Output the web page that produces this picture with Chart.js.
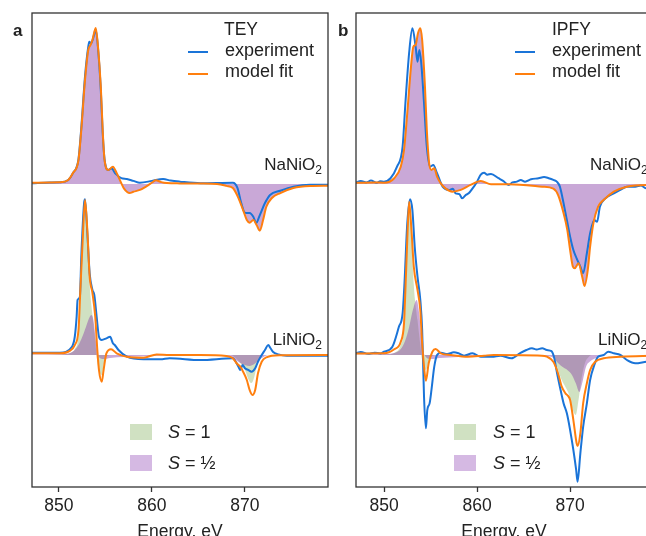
<!DOCTYPE html>
<html>
<head>
<meta charset="utf-8">
<script src="https://cdn.jsdelivr.net/npm/chart.js@4.4.0/dist/chart.umd.min.js"></script>
<style>
  html, body { margin: 0; padding: 0; background: #fff; overflow: hidden; }
  #fig { position: relative; width: 646px; height: 536px; overflow: hidden;
         font-family: 'Liberation Sans', Arial, sans-serif; color: #222; }
  canvas { position: absolute; top: 0; }
  #ca { left: 0; }
  #cb { left: 330px; }
  .t { position: absolute; font-size: 17px; line-height: 17px; white-space: nowrap; }
  .lg { font-size: 18px; }
  .b { font-weight: bold; }
  .ln { position: absolute; width: 20px; height: 2px; }
  .patch { position: absolute; width: 22px; height: 16px; }
  sub { font-size: 12px; vertical-align: -4px; line-height: 0; }
</style>
</head>
<body>
<div id="fig">
  <canvas id="ca" width="340" height="548"></canvas>
  <canvas id="cb" width="340" height="548"></canvas>

  <div class="t b" style="left:13px;top:22px">a</div>
  <div class="t" style="left:224px;top:21px;font-size:17.5px">TEY</div>
  <div class="ln" style="left:188px;top:51px;background:#1a74d8"></div>
  <div class="t lg" style="left:225px;top:42px">experiment</div>
  <div class="ln" style="left:188px;top:73px;background:#ff7f0e"></div>
  <div class="t lg" style="left:225px;top:63px">model fit</div>
  <div class="t" style="right:324px;top:156px">NaNiO<sub>2</sub></div>
  <div class="t" style="right:324px;top:331px">LiNiO<sub>2</sub></div>
  <div class="patch" style="left:130px;top:424px;background:rgba(120,170,80,0.35)"></div>
  <div class="t lg" style="left:168px;top:424px"><i>S</i> = 1</div>
  <div class="patch" style="left:130px;top:455px;background:rgba(150,80,185,0.4)"></div>
  <div class="t lg" style="left:168px;top:455px"><i>S</i> = ½</div>

  <div class="t b" style="left:338px;top:22px">b</div>
  <div class="t" style="left:552px;top:21px;font-size:17.5px">IPFY</div>
  <div class="ln" style="left:515px;top:51px;background:#1a74d8"></div>
  <div class="t lg" style="left:552px;top:42px">experiment</div>
  <div class="ln" style="left:515px;top:73px;background:#ff7f0e"></div>
  <div class="t lg" style="left:552px;top:63px">model fit</div>
  <div class="t" style="left:590px;top:156px">NaNiO<sub>2</sub></div>
  <div class="t" style="left:598px;top:331px">LiNiO<sub>2</sub></div>
  <div class="patch" style="left:454px;top:424px;background:rgba(120,170,80,0.35)"></div>
  <div class="t lg" style="left:493px;top:424px"><i>S</i> = 1</div>
  <div class="patch" style="left:454px;top:455px;background:rgba(150,80,185,0.4)"></div>
  <div class="t lg" style="left:493px;top:455px"><i>S</i> = ½</div>
</div>

<script>
// energy (eV), signal relative to each trace's own baseline (peak ~ 1)
const xTicks = [850, 860, 870];
const naOffset = 1.096;   // NaNiO2 traces sit above LiNiO2

// --- a: TEY ---
const teyNaExp = [[847.1,0.005],[849,0.01],[850.1,0.011],[851,0.026],[851.5,0.07],[852.1,0.16],[852.4,0.36],[852.8,0.69],[853.15,0.88],[853.26,0.912],[853.45,0.9],[853.7,0.94],[853.95,0.99],[854.2,0.87],[854.5,0.6],[854.7,0.33],[854.9,0.16],[855.3,0.09],[855.65,0.1],[856.1,0.065],[856.7,0.038],[857.3,0.032],[858,0.02],[858.7,0.008],[860,0.02],[861.2,0.032],[862,0.022],[863,0.015],[865.2,0.005],[868.7,0.008],[869.2,-0.026],[869.6,-0.122],[870,-0.184],[870.5,-0.186],[870.9,-0.21],[871.2,-0.25],[871.6,-0.199],[872.15,-0.122],[872.7,-0.07],[873.8,-0.043],[875.2,-0.017],[877,-0.004],[879,-0.004]];
const teyNaFit = [[847.1,0.008],[849,0.01],[850.1,0.011],[851,0.026],[851.5,0.07],[852.1,0.154],[852.4,0.346],[852.8,0.667],[853.15,0.859],[853.4,0.891],[853.6,0.923],[853.95,1.0],[854.2,0.878],[854.5,0.622],[854.7,0.346],[854.9,0.154],[855.3,0.09],[855.8,0.111],[856.2,0.07],[856.7,0.006],[857,-0.03],[857.6,-0.058],[858,-0.05],[858.7,-0.038],[859.4,-0.015],[860.1,0.013],[860.4,0.024],[861,0.012],[861.6,0.006],[863,0.004],[865.2,0.003],[867,0],[868,-0.012],[868.7,-0.026],[869.3,-0.09],[869.8,-0.167],[870.2,-0.231],[870.5,-0.248],[870.9,-0.231],[871.25,-0.263],[871.6,-0.299],[871.95,-0.231],[872.3,-0.146],[872.9,-0.09],[873.8,-0.058],[875.2,-0.026],[877,-0.013],[879,-0.011]];
const teyLiExp = [[847.1,0.015],[850.1,0.015],[851.4,0.053],[851.7,0.117],[851.9,0.246],[852,0.353],[852.25,0.374],[852.4,0.63],[852.7,0.972],[852.8,0.998],[853.05,0.78],[853.3,0.524],[853.6,0.417],[853.8,0.385],[854.05,0.246],[854.3,0.117],[854.6,0.096],[855.1,0.107],[855.5,0.117],[855.8,0.075],[856,0.064],[856.4,0.032],[857.3,-0.011],[859.1,-0.028],[860.9,-0.028],[861.9,-0.021],[865.2,-0.032],[868.7,-0.021],[868.9,-0.032],[869.3,-0.075],[869.5,-0.096],[869.75,-0.064],[870,-0.085],[870.35,-0.096],[870.7,-0.107],[871.1,-0.085],[871.4,-0.043],[871.8,0],[872.15,0.032],[872.5,0.064],[872.75,0.043],[873,0.021],[873.6,0.004],[874.5,-0.004],[879,-0.004]];
const teyLiFit = [[847.1,0.012],[850.1,0.011],[851.2,0.028],[851.7,0.064],[852.1,0.16],[852.3,0.417],[852.55,0.737],[852.8,0.994],[853.05,0.801],[853.3,0.502],[853.6,0.397],[853.9,0.246],[854.1,0.053],[854.3,-0.096],[854.6,-0.171],[854.8,-0.096],[855.1,0.011],[855.6,0.037],[856.2,0.011],[857.3,-0.011],[859.1,-0.017],[860.5,0.004],[861.9,0],[865.2,0],[868,-0.006],[868.7,-0.021],[869.1,-0.053],[869.5,-0.075],[869.8,-0.107],[870.2,-0.16],[870.5,-0.224],[870.8,-0.256],[871.1,-0.224],[871.4,-0.117],[871.8,-0.043],[872.3,-0.015],[873.8,-0.002],[879,0]];
const teyLiS1 = [[847.1,0],[850.5,0.004],[851.2,0.013],[851.7,0.038],[852.1,0.128],[852.3,0.353],[852.55,0.705],[852.8,0.96],[853.05,0.77],[853.3,0.449],[853.6,0.256],[853.9,0.096],[854.1,-0.032],[854.3,-0.096],[854.6,-0.128],[854.8,-0.064],[855.1,-0.013],[855.6,0],[868.5,0],[869,-0.019],[869.5,-0.051],[870,-0.096],[870.4,-0.16],[870.7,-0.18],[871,-0.141],[871.3,-0.064],[871.7,-0.019],[872,0],[879,0]];
const teyLiS12 = [[847.1,0.003],[850,0.005],[851.2,0.013],[851.7,0.032],[852.1,0.064],[852.5,0.115],[852.9,0.18],[853.3,0.244],[853.5,0.256],[853.7,0.224],[853.9,0.128],[854.1,0.032],[854.3,-0.013],[854.8,-0.026],[855.5,-0.019],[857,-0.013],[860,-0.006],[863,0],[868,-0.006],[868.5,-0.019],[869,-0.032],[869.5,-0.051],[870,-0.064],[870.5,-0.07],[871,-0.058],[871.5,-0.032],[872,-0.013],[872.5,0],[879,0]];

// --- b: IPFY ---
const ipfyNaExp = [[847,0.008],[847.5,0.02],[848.1,0.01],[848.6,0.022],[849.2,0.008],[849.6,0.018],[850,0.015],[850.7,0.037],[851.4,0.111],[852,0.239],[852.3,0.519],[852.7,0.84],[853.05,0.998],[853.4,0.88],[853.6,0.784],[853.8,0.859],[854,0.776],[854.3,0.519],[854.6,0.239],[854.95,0.111],[855.3,0.122],[855.7,0.069],[856.3,-0.017],[857,-0.038],[857.4,-0.03],[857.7,-0.06],[858.1,-0.065],[858.4,-0.092],[858.8,-0.07],[859.1,-0.06],[859.5,-0.03],[860,0.015],[860.4,0.06],[860.75,0.072],[861.1,0.06],[861.5,0.064],[862.3,0.037],[862.8,0.02],[863.4,-0.006],[863.8,0.01],[864.27,0.015],[864.7,0.025],[865.16,0.015],[865.8,0.03],[866.6,0.037],[867.2,0.045],[867.7,0.037],[868.2,0.026],[868.57,0.015],[868.9,-0.017],[869.3,-0.124],[869.65,-0.231],[870,-0.338],[870.35,-0.423],[870.7,-0.476],[871.1,-0.53],[871.4,-0.572],[871.8,-0.444],[872.15,-0.316],[872.6,-0.231],[872.9,-0.242],[873.2,-0.146],[873.8,-0.092],[874.7,-0.06],[875.4,-0.038],[876.1,-0.017],[877,-0.017],[877.6,-0.01],[878.2,-0.028],[878.8,-0.02]];
const ipfyNaFit = [[847,0.008],[849,0.01],[850,0.008],[851.1,0.037],[851.8,0.111],[852.15,0.218],[852.5,0.455],[852.9,0.752],[853.15,0.88],[853.4,0.891],[853.65,0.966],[853.9,0.998],[854.1,0.923],[854.4,0.624],[854.6,0.346],[854.85,0.133],[855.1,0.09],[855.4,0.101],[855.7,0.047],[856.1,0.004],[856.6,-0.028],[857.35,-0.049],[858.25,-0.038],[859.3,-0.006],[860.4,0.019],[861.5,-0.002],[863.4,-0.002],[867,-0.017],[868.2,-0.03],[868.7,-0.07],[869.3,-0.188],[869.7,-0.295],[870,-0.423],[870.3,-0.53],[870.5,-0.54],[870.9,-0.508],[871.3,-0.594],[871.55,-0.654],[871.9,-0.551],[872.15,-0.402],[872.5,-0.252],[873,-0.146],[873.6,-0.103],[874.7,-0.049],[876.1,-0.017],[878.2,-0.006],[879,-0.006]];
const ipfyLiExp = [[847,0.011],[847.5,0.02],[848.3,0.008],[849,0.015],[849.6,0.01],[850,0.021],[850.9,0.053],[851.6,0.181],[852,0.267],[852.2,0.46],[852.5,0.844],[852.8,0.998],[853.05,0.929],[853.3,0.694],[853.6,0.502],[853.9,0.353],[854.1,0.16],[854.3,-0.267],[854.5,-0.47],[854.65,-0.353],[854.9,-0.31],[855.1,-0.224],[855.4,-0.075],[855.7,0],[856.1,0.015],[856.8,0.006],[857.5,0.017],[858,0.011],[858.6,-0.004],[859.5,0.011],[860.4,-0.011],[861.6,-0.011],[862.5,-0.004],[863.7,-0.021],[864.6,0.011],[865.3,0.032],[865.9,0.043],[866.4,0.035],[867,0.043],[867.5,0.032],[868,0.025],[868.3,-0.02],[868.6,-0.117],[868.9,-0.203],[869.3,-0.31],[869.65,-0.374],[870,-0.481],[870.35,-0.609],[870.65,-0.737],[870.8,-0.812],[871.1,-0.63],[871.4,-0.46],[871.8,-0.31],[872.15,-0.16],[872.6,-0.064],[873,-0.011],[873.6,0],[874.1,0.021],[874.7,0.011],[875.4,0],[876.1,-0.032],[877,-0.053],[878.2,-0.043],[878.8,-0.04]];
const ipfyLiFit = [[847,0.01],[850,0.011],[851.1,0.037],[851.8,0.085],[852.15,0.203],[852.3,0.417],[852.5,0.737],[852.7,0.983],[852.95,0.801],[853.2,0.566],[853.6,0.417],[853.9,0.288],[854.1,0.075],[854.3,-0.075],[854.5,-0.165],[854.8,-0.053],[855.2,0.021],[855.55,0.038],[856.1,0.011],[857.2,0],[859,-0.011],[860.75,-0.004],[861.8,0],[866.96,-0.004],[867.5,-0.011],[868.2,-0.043],[868.7,-0.117],[869.1,-0.203],[869.5,-0.246],[869.75,-0.26],[870,-0.288],[870.35,-0.417],[870.7,-0.566],[870.8,-0.583],[871.1,-0.502],[871.4,-0.31],[871.8,-0.181],[872.15,-0.096],[872.7,-0.043],[873.6,-0.021],[875.4,-0.011],[879,-0.005]];
const ipfyLiS1 = [[847,0],[850.3,0.004],[851.1,0.013],[851.8,0.064],[852.15,0.16],[852.3,0.32],[852.5,0.705],[852.7,0.95],[852.95,0.77],[853.2,0.449],[853.6,0.224],[853.9,0.064],[854.1,-0.032],[854.3,-0.077],[854.5,-0.096],[854.8,-0.038],[855.2,-0.006],[855.6,0],[867.9,0],[868.3,-0.019],[868.7,-0.096],[869.1,-0.16],[869.5,-0.205],[869.9,-0.256],[870.3,-0.353],[870.6,-0.385],[870.9,-0.29],[871.2,-0.16],[871.6,-0.051],[872,-0.013],[872.3,0],[879,0]];
const ipfyLiS12 = [[847,0.002],[850,0.006],[851.1,0.013],[851.8,0.038],[852.3,0.096],[852.7,0.18],[853.1,0.288],[853.5,0.353],[853.8,0.256],[854,0.128],[854.2,0.032],[854.5,-0.013],[855,-0.026],[856,-0.019],[858,-0.013],[860,-0.006],[863,0],[867.5,-0.006],[868.2,-0.019],[868.7,-0.051],[869.2,-0.077],[869.7,-0.096],[870.2,-0.128],[870.6,-0.18],[871,-0.237],[871.3,-0.18],[871.7,-0.077],[872.2,-0.038],[872.8,-0.019],[873.5,-0.006],[874,0],[879,0]];

const FONT = "'Liberation Sans', Arial, sans-serif";
const BLUE = '#1a74d8', ORANGE = '#ff7f0e';
const GREEN_FILL = 'rgba(120,170,80,0.35)', PURPLE_FILL = 'rgba(140,70,170,0.47)';

const pts = (arr, off) => arr.map(([x, y]) => ({x, y: y + off}));

function line(data, color, order) {
  return {data, borderColor: color, borderWidth: 2, pointRadius: 0,
    cubicInterpolationMode: 'monotone', fill: false, order};
}
function area(data, color, base, order) {
  return {data, borderWidth: 0, borderColor: 'rgba(0,0,0,0)', backgroundColor: color,
    pointRadius: 0, cubicInterpolationMode: 'monotone', fill: {value: base}, order};
}

const frame = {
  id: 'frame',
  afterDraw(chart) {
    const {ctx, chartArea: a} = chart;
    ctx.save();
    ctx.strokeStyle = '#333';
    ctx.lineWidth = 1.3;
    ctx.strokeRect(a.left, a.top, a.right - a.left, a.bottom - a.top);
    ctx.restore();
  }
};

function makePanel(id, padLeft, padRight, xMin, xMax, s) {
  const datasets = [
    area(pts(s.naFit, naOffset), PURPLE_FILL, naOffset, 5),
    area(pts(s.liS1, 0), GREEN_FILL, 0, 6),
    area(pts(s.liS12, 0), PURPLE_FILL, 0, 5),
    line(pts(s.naExp, naOffset), BLUE, 2),
    line(pts(s.liExp, 0), BLUE, 2),
    line(pts(s.naFit, naOffset), ORANGE, 1),
    line(pts(s.liFit, 0), ORANGE, 1),
  ];
  return new Chart(document.getElementById(id), {
    type: 'line',
    data: {datasets},
    plugins: [frame],
    options: {
      responsive: false,
      animation: false,
      devicePixelRatio: 1,
      layout: {padding: {left: padLeft, right: padRight, top: 13, bottom: 0}},
      plugins: {legend: {display: false}, tooltip: {enabled: false}},
      scales: {
        x: {
          type: 'linear', min: xMin, max: xMax,
          afterBuildTicks: sc => { sc.ticks = xTicks.map(v => ({value: v})); },
          afterFit: sc => { sc.height = 61; },
          border: {display: false},
          grid: {display: true, drawOnChartArea: false, drawTicks: true,
                 tickLength: 5, tickColor: '#333', tickWidth: 1.3},
          ticks: {color: '#222', padding: 4, maxRotation: 0,
                  font: {family: FONT, size: 17.5}, callback: v => String(v)},
          title: {display: true, text: 'Energy, eV', color: '#222',
                  font: {family: FONT, size: 17.5}, padding: {top: 0, bottom: 5}}
        },
        y: {display: false, min: -0.846, max: 2.192}
      }
    }
  });
}

makePanel('ca', 32, 12, 847.1, 878.93,
  {naExp: teyNaExp, naFit: teyNaFit, liExp: teyLiExp, liFit: teyLiFit, liS1: teyLiS1, liS12: teyLiS12});
makePanel('cb', 26, 18, 846.99, 878.8,
  {naExp: ipfyNaExp, naFit: ipfyNaFit, liExp: ipfyLiExp, liFit: ipfyLiFit, liS1: ipfyLiS1, liS12: ipfyLiS12});
</script>
</body>
</html>
